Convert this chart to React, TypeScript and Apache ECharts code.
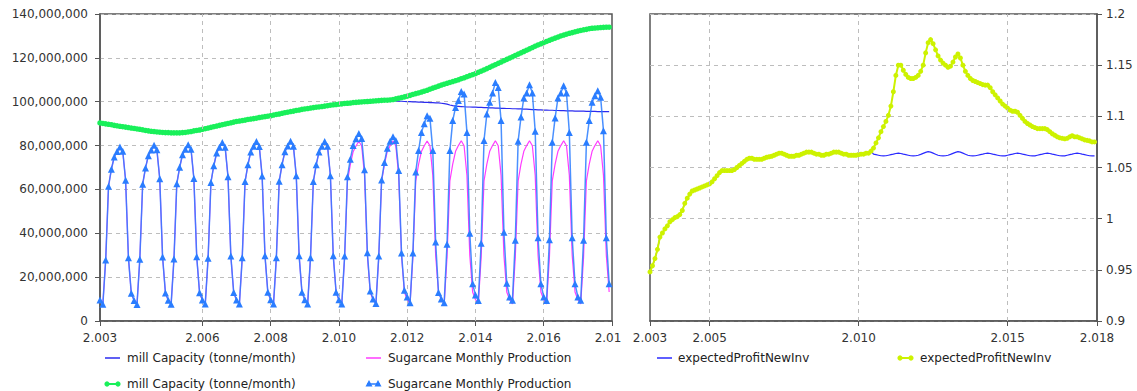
import React, { useEffect, useRef } from "react";
import * as echarts from "echarts";

const START_YEAR = 2003;

const leftXTicks = [2003, 2006, 2008, 2010, 2012, 2014, 2016, 2018];
const leftXGrid = [2006, 2008, 2010, 2012, 2014, 2016];
const rightXTicks = [2003, 2005, 2010, 2015, 2018];
const rightXGrid = [2005, 2010, 2015];

const legendLeft = ["mill Capacity (tonne/month)", "Sugarcane Monthly Production"];
const legendRight = ["expectedProfitNewInv", "expectedProfitNewInv"];

// million tonnes / month, monthly Jan 2003 .. Dec 2017
const millCapacityInv = [
  90.3, 90.1, 89.9, 89.7, 89.5, 89.2, 89.0, 88.8, 88.6, 88.4, 88.2, 88.0,
  87.8, 87.6, 87.4, 87.2, 86.9, 86.7, 86.5, 86.4, 86.2, 86.1, 86.0, 85.9,
  85.9, 85.8, 85.8, 85.8, 85.8, 85.9, 86.0, 86.2, 86.4, 86.7, 86.9, 87.1,
  87.4, 87.7, 88.0, 88.3, 88.6, 88.9, 89.2, 89.5, 89.8, 90.1, 90.4, 90.7,
  91.0, 91.2, 91.4, 91.6, 91.9, 92.1, 92.3, 92.5, 92.8, 93.0, 93.2, 93.4,
  93.6, 93.9, 94.2, 94.4, 94.7, 95.0, 95.2, 95.5, 95.7, 96.0, 96.2, 96.5,
  96.7, 96.9, 97.1, 97.3, 97.5, 97.6, 97.8, 98.0, 98.2, 98.4, 98.6, 98.7,
  98.9, 99.0, 99.2, 99.3, 99.4, 99.6, 99.7, 99.8, 99.9, 100.0, 100.1, 100.2,
  100.3, 100.4, 100.5, 100.6, 100.7, 100.7, 100.8, 101.0, 101.3, 101.6, 101.9, 102.2,
  102.5, 102.9, 103.3, 103.7, 104.0, 104.4, 104.8, 105.2, 105.7, 106.2, 106.6, 107.1,
  107.6, 108.0, 108.4, 108.8, 109.2, 109.6, 110.0, 110.5, 110.9, 111.4, 111.9, 112.3,
  112.8, 113.4, 113.9, 114.5, 115.1, 115.7, 116.3, 116.9, 117.5, 118.1, 118.7, 119.3,
  119.9, 120.5, 121.1, 121.7, 122.3, 122.9, 123.5, 124.1, 124.7, 125.3, 125.9, 126.4,
  127.0, 127.5, 128.0, 128.5, 129.0, 129.5, 130.0, 130.4, 130.8, 131.2, 131.5, 131.9,
  132.2, 132.5, 132.8, 133.0, 133.3, 133.5, 133.6, 133.7, 133.8, 133.9, 134.0, 134.0,
];

// baseline mill capacity from May 2011 on (before that it equals millCapacityInv)
const millCapacityBaseLate = [
  100.7, 100.7, 100.6, 100.5, 100.4, 100.3, 100.2, 100.1,
  100.0, 100.0, 99.9, 99.9, 99.8, 99.8, 99.7, 99.7, 99.6, 99.6, 99.5, 99.5,
  99.3, 99.1, 98.9, 98.5, 98.2, 98.0, 97.9, 97.8, 97.7, 97.6, 97.6, 97.5,
  97.5, 97.4, 97.4, 97.3, 97.3, 97.2, 97.2, 97.1, 97.1, 97.0, 97.0, 96.9,
  96.9, 96.8, 96.8, 96.7, 96.7, 96.6, 96.6, 96.5, 96.4, 96.4, 96.3, 96.3,
  96.2, 96.2, 96.1, 96.1, 96.0, 96.0, 95.9, 95.9, 95.8, 95.8, 95.8, 95.7,
  95.7, 95.7, 95.7, 95.6, 95.6, 95.6, 95.6, 95.5, 95.5, 95.5, 95.5, 95.5,
];

// Sugarcane Monthly Production (million tonnes), baseline
const productionBase = [
  9.6, 7.6, 27.8, 61.5, 69.2, 74.8, 77.3, 79.4, 77.4, 64.2, 28.8, 12.6,
  9.4, 7.5, 28.2, 62.4, 69.8, 75.4, 78.0, 80.2, 78.1, 64.9, 29.2, 12.8,
  9.5, 7.6, 28.3, 62.6, 70.1, 75.8, 78.3, 80.4, 78.3, 65.0, 29.3, 12.9,
  9.6, 7.7, 28.6, 63.2, 70.8, 76.6, 79.2, 81.4, 79.2, 65.8, 29.6, 13.0,
  9.6, 7.7, 28.8, 63.6, 71.2, 77.1, 79.7, 81.9, 79.6, 66.1, 29.8, 13.1,
  9.7, 7.8, 28.8, 63.7, 71.3, 77.2, 79.8, 82.0, 79.7, 66.2, 29.8, 13.1,
  9.7, 7.8, 28.8, 63.6, 71.2, 77.1, 79.7, 81.9, 79.7, 66.2, 29.8, 13.1,
  9.7, 7.8, 28.9, 63.7, 71.3, 77.2, 79.8, 82.0, 79.8, 66.3, 29.9, 13.1,
  9.7, 7.8, 28.9, 63.8, 71.4, 77.3, 79.9, 82.1, 79.8, 66.3, 29.9, 13.2,
  9.8, 7.8, 29.0, 63.8, 71.4, 77.3, 79.9, 82.1, 79.9, 66.4, 29.9, 13.2,
  9.8, 7.8, 29.0, 63.9, 71.5, 77.4, 80.0, 82.2, 79.9, 66.4, 30.0, 13.2,
  9.8, 7.8, 29.0, 63.9, 71.5, 77.4, 80.0, 82.2, 79.9, 66.4, 30.0, 13.2,
  9.8, 7.8, 29.0, 63.9, 71.5, 77.4, 80.0, 82.2, 79.9, 66.4, 30.0, 13.2,
  9.8, 7.8, 29.0, 63.9, 71.5, 77.4, 80.0, 82.2, 79.9, 66.4, 30.0, 13.2,
  9.8, 7.8, 29.0, 63.9, 71.5, 77.4, 80.0, 82.2, 79.9, 66.4, 30.0, 13.2,
];

// Sugarcane Monthly Production with new investment, Jan 2010 .. Dec 2017
const productionInvLate = [
  9.7, 7.8, 29.6, 65.8, 73.8, 80.0, 83.1, 85.5, 83.2, 69.0, 31.1, 13.7,
  10.0, 8.0, 29.6, 64.3, 72.3, 78.8, 82.0, 84.0, 82.3, 68.6, 31.0, 14.0,
  11.0, 8.3, 31.0, 68.0, 77.7, 86.0, 90.0, 93.6, 92.5, 77.7, 36.0, 13.0,
  10.0, 8.3, 35.0, 77.7, 91.4, 97.4, 100.5, 104.7, 103.5, 86.0, 40.0, 17.0,
  11.8, 9.4, 35.4, 82.3, 94.4, 99.7, 104.0, 108.8, 106.5, 91.4, 40.5, 17.2,
  11.0, 9.5, 36.8, 82.0, 93.0, 101.7, 104.0, 107.7, 104.0, 86.5, 38.0, 17.0,
  11.0, 9.4, 37.0, 81.5, 92.6, 101.7, 104.0, 107.3, 104.0, 86.0, 38.0, 17.0,
  11.0, 9.5, 36.8, 81.5, 91.4, 99.7, 102.7, 105.0, 102.0, 86.8, 38.0, 17.0,
];

// expectedProfitNewInv with investment
const profitInv = [
  0.948, 0.954, 0.961, 0.970, 0.982, 0.986, 0.990, 0.993, 0.997, 0.999, 1.001, 1.002,
  1.004, 1.008, 1.015, 1.020, 1.024, 1.027, 1.028, 1.029, 1.030, 1.031, 1.032, 1.033,
  1.034, 1.036, 1.039, 1.042, 1.045, 1.047, 1.047, 1.047, 1.047, 1.047, 1.048, 1.050,
  1.052, 1.054, 1.056, 1.058, 1.059, 1.059, 1.058, 1.058, 1.058, 1.058, 1.059, 1.060,
  1.0605, 1.061, 1.062, 1.063, 1.064, 1.064, 1.063, 1.062, 1.061, 1.061, 1.061, 1.062,
  1.062, 1.063, 1.064, 1.065, 1.065, 1.065, 1.064, 1.063, 1.063, 1.062, 1.062, 1.063,
  1.063, 1.064, 1.065, 1.065, 1.065, 1.064, 1.063, 1.063, 1.062, 1.062, 1.062, 1.062,
  1.0627, 1.063, 1.063, 1.064, 1.064, 1.066, 1.069, 1.074, 1.079, 1.085, 1.090, 1.095,
  1.101, 1.110, 1.124, 1.140, 1.150, 1.150, 1.145, 1.141, 1.138, 1.137, 1.137, 1.138,
  1.140, 1.144, 1.150, 1.162, 1.172, 1.175, 1.171, 1.165, 1.159, 1.155, 1.152, 1.150,
  1.148, 1.149, 1.153, 1.158, 1.161, 1.157, 1.150, 1.144, 1.140, 1.137, 1.135, 1.134,
  1.133, 1.132, 1.131, 1.1305, 1.1305, 1.128, 1.124, 1.121, 1.118, 1.115, 1.112, 1.110,
  1.108, 1.106, 1.105, 1.105, 1.104, 1.101, 1.098, 1.095, 1.093, 1.0915, 1.090, 1.089,
  1.088, 1.088, 1.088, 1.088, 1.087, 1.085, 1.083, 1.0815, 1.080, 1.079, 1.0785, 1.078,
  1.0785, 1.080, 1.081, 1.080, 1.080, 1.079, 1.078, 1.077, 1.0765, 1.076, 1.075, 1.075,
];

// expectedProfitNewInv baseline from Jul 2010 on (before that it equals profitInv)
const profitBaseLate = [
  1.063, 1.0625, 1.062, 1.0615, 1.0614, 1.0615,
  1.062, 1.0625, 1.063, 1.0637, 1.064, 1.0637, 1.063, 1.0625, 1.062, 1.0615, 1.0614, 1.0615,
  1.062, 1.0628, 1.0638, 1.0648, 1.0655, 1.065, 1.064, 1.063, 1.062, 1.0615, 1.0614, 1.0615,
  1.062, 1.0628, 1.0638, 1.0648, 1.0655, 1.065, 1.064, 1.063, 1.062, 1.0615, 1.0614, 1.0615,
  1.062, 1.0625, 1.063, 1.0637, 1.064, 1.0637, 1.063, 1.0625, 1.062, 1.0615, 1.0614, 1.0614,
  1.062, 1.0625, 1.063, 1.0637, 1.064, 1.0637, 1.063, 1.0625, 1.062, 1.0615, 1.0614, 1.0614,
  1.062, 1.0625, 1.063, 1.0637, 1.064, 1.0637, 1.063, 1.0625, 1.062, 1.0615, 1.0614, 1.0614,
  1.062, 1.0625, 1.063, 1.0637, 1.064, 1.0637, 1.063, 1.0625, 1.062, 1.0615, 1.0614, 1.0614,
];

const millCapacityBase = millCapacityInv.slice(0, 100).concat(millCapacityBaseLate);
const productionInv = productionBase.slice(0, 84).concat(productionInvLate);
const profitBase = profitInv.slice(0, 90).concat(profitBaseLate);

const monthly = (arr: number[], scale = 1) =>
  arr.map((v, i) => [START_YEAR + i / 12, v * scale]);

const FONT = "DejaVu Sans";
const AXIS_COLOR = "#555555";
const LABEL_COLOR = "#333333";
const GRID_LINE = { color: "#bdbdbd", width: 1, type: [4, 4] as any };

const C_BASE_CAP = "#2b2bef";
const C_BASE_PROD = "#ff3cff";
const C_INV_CAP = "#19f05a";
const C_INV_PROD = "#2a7dff";
const C_PROFIT_BASE = "#2a2aff";
const C_PROFIT_INV = "#cdf200";

const fmtYear = (v: number) => {
  const s = String(Math.round(v));
  return s.slice(0, 1) + "." + s.slice(1);
};

const vGrid = (vals: number[]) => ({
  silent: true,
  symbol: "none",
  label: { show: false },
  lineStyle: GRID_LINE,
  data: vals.map((v) => ({ xAxis: v })),
});

const legendText = (x: number, y: number, text: string) => ({
  type: "text",
  x,
  y,
  style: { text, fill: "#222", font: `12px "${FONT}"`, verticalAlign: "middle" },
});

const triangle = (cx: number, cy: number, color: string) => ({
  type: "polygon",
  shape: { points: [[cx, cy - 4], [cx - 3.5, cy + 2.5], [cx + 3.5, cy + 2.5]] },
  style: { fill: color },
});

function leftOption(): any {
  return {
    animation: false,
    grid: {
      left: 100, top: 14, width: 512, height: 307,
      show: true, borderColor: AXIS_COLOR, borderWidth: 1.5, backgroundColor: "#fff",
    },
    xAxis: {
      type: "value", min: 2003, max: 2018, interval: 1,
      axisLine: { show: true, lineStyle: { color: AXIS_COLOR, width: 1.5 } },
      axisTick: { show: true, length: 5, customValues: leftXTicks, lineStyle: { color: AXIS_COLOR } },
      axisLabel: {
        customValues: leftXTicks, color: LABEL_COLOR, fontFamily: FONT, fontSize: 12, margin: 11,
        formatter: (v: number) => {
          const y = Math.round(v);
          if (!leftXTicks.includes(y)) return "";
          // the last label is cut off by the neighbouring panel in the original
          return y === 2018 ? "{cut|" + fmtYear(v).slice(0, 4) + "}" : fmtYear(v);
        },
        rich: {
          cut: { color: LABEL_COLOR, fontFamily: FONT, fontSize: 12, padding: [0, 8, 0, 0] },
        },
      },
      splitLine: { show: false },
    },
    yAxis: {
      type: "value", min: 0, max: 140e6, interval: 20e6,
      axisLine: { show: true, lineStyle: { color: AXIS_COLOR, width: 1.5 } },
      axisTick: { show: true, length: 5, lineStyle: { color: AXIS_COLOR } },
      axisLabel: {
        color: LABEL_COLOR, fontFamily: FONT, fontSize: 12, margin: 12,
        formatter: (v: number) => Math.round(v).toLocaleString("en-US"),
      },
      splitLine: { show: true, lineStyle: GRID_LINE },
    },
    series: [
      {
        name: legendLeft[0], type: "line", data: monthly(millCapacityBase, 1e6),
        symbol: "none", lineStyle: { color: C_BASE_CAP, width: 1.2 }, z: 2,
        markLine: vGrid(leftXGrid),
      },
      {
        name: legendLeft[1], type: "line", data: monthly(productionBase, 1e6),
        symbol: "none", lineStyle: { color: C_BASE_PROD, width: 1.2 }, z: 3,
      },
      {
        name: legendLeft[0], type: "line", data: monthly(millCapacityInv, 1e6),
        symbol: "circle", symbolSize: 5.5, itemStyle: { color: C_INV_CAP },
        lineStyle: { color: C_INV_CAP, width: 2.5 }, z: 4,
      },
      {
        name: legendLeft[1], type: "line", data: monthly(productionInv, 1e6),
        symbol: "triangle", symbolSize: 7, itemStyle: { color: C_INV_PROD },
        lineStyle: { color: C_INV_PROD, width: 1.5, opacity: 0.85 }, z: 5,
      },
    ],
    graphic: [
      { type: "line", shape: { x1: 105, y1: 358, x2: 120, y2: 358 }, style: { stroke: C_BASE_CAP, lineWidth: 1.5 } },
      legendText(127, 358, legendLeft[0]),
      { type: "line", shape: { x1: 366, y1: 358, x2: 381, y2: 358 }, style: { stroke: C_BASE_PROD, lineWidth: 1.5 } },
      legendText(388, 358, legendLeft[1]),
      { type: "line", shape: { x1: 106, y1: 384, x2: 119, y2: 384 }, style: { stroke: C_INV_CAP, lineWidth: 2 } },
      { type: "circle", shape: { cx: 107, cy: 384, r: 2.6 }, style: { fill: C_INV_CAP } },
      { type: "circle", shape: { cx: 118, cy: 384, r: 2.6 }, style: { fill: C_INV_CAP } },
      legendText(127, 384, legendLeft[0]),
      { type: "line", shape: { x1: 367, y1: 384, x2: 380, y2: 384 }, style: { stroke: C_INV_PROD, lineWidth: 1.5 } },
      triangle(369, 384, C_INV_PROD),
      triangle(378, 384, C_INV_PROD),
      legendText(388, 384, legendLeft[1]),
    ],
  };
}

function rightOption(): any {
  return {
    animation: false,
    grid: {
      left: 24, top: 14, width: 447, height: 307,
      show: true, borderColor: AXIS_COLOR, borderWidth: 1.5, backgroundColor: "#fff",
    },
    xAxis: {
      type: "value", min: 2003, max: 2018, interval: 1,
      axisLine: { show: true, lineStyle: { color: AXIS_COLOR, width: 1.5 } },
      axisTick: { show: true, length: 5, customValues: rightXTicks, lineStyle: { color: AXIS_COLOR } },
      axisLabel: {
        customValues: rightXTicks, color: LABEL_COLOR, fontFamily: FONT, fontSize: 12, margin: 11,
        formatter: (v: number) => (rightXTicks.includes(Math.round(v)) ? fmtYear(v) : ""),
      },
      splitLine: { show: false },
    },
    yAxis: {
      type: "value", position: "right", min: 0.9, max: 1.2, interval: 0.05,
      axisLine: { show: true, lineStyle: { color: AXIS_COLOR, width: 1.5 } },
      axisTick: { show: true, length: 5, lineStyle: { color: AXIS_COLOR } },
      axisLabel: {
        color: LABEL_COLOR, fontFamily: FONT, fontSize: 12, margin: 9,
        formatter: (v: number) => String(+v.toFixed(2)),
      },
      splitLine: { show: true, lineStyle: GRID_LINE },
    },
    series: [
      {
        name: legendRight[0], type: "line", data: monthly(profitBase),
        symbol: "none", lineStyle: { color: C_PROFIT_BASE, width: 1.2 }, z: 2,
        markLine: vGrid(rightXGrid),
      },
      {
        name: legendRight[1], type: "line", data: monthly(profitInv),
        symbol: "circle", symbolSize: 5, itemStyle: { color: C_PROFIT_INV },
        lineStyle: { color: C_PROFIT_INV, width: 2 }, z: 3,
      },
    ],
    graphic: [
      { type: "line", shape: { x1: 31, y1: 358, x2: 46, y2: 358 }, style: { stroke: C_PROFIT_BASE, lineWidth: 1.5 } },
      legendText(52, 358, legendRight[0]),
      { type: "line", shape: { x1: 273, y1: 358, x2: 286, y2: 358 }, style: { stroke: C_PROFIT_INV, lineWidth: 2 } },
      { type: "circle", shape: { cx: 274, cy: 358, r: 2.6 }, style: { fill: C_PROFIT_INV } },
      { type: "circle", shape: { cx: 285, cy: 358, r: 2.6 }, style: { fill: C_PROFIT_INV } },
      legendText(294, 358, legendRight[1]),
    ],
  };
}

function ChartBox({ left, width, option }: { left: number; width: number; option: any }) {
  const ref = useRef<HTMLDivElement>(null);
  useEffect(() => {
    if (!ref.current) return;
    const chart = echarts.init(ref.current, undefined, { renderer: "svg" });
    chart.setOption(option);
    return () => chart.dispose();
  }, []);
  return (
    <div
      ref={ref}
      style={{ position: "absolute", left, top: 0, width, height: 391, overflow: "hidden" }}
    />
  );
}

export default function App() {
  return (
    <div
      style={{
        position: "fixed", left: 0, top: 0, width: 1137, height: 391,
        background: "#fff", overflow: "hidden",
      }}
    >
      <ChartBox left={0} width={626} option={leftOption()} />
      <ChartBox left={626} width={511} option={rightOption()} />
    </div>
  );
}
